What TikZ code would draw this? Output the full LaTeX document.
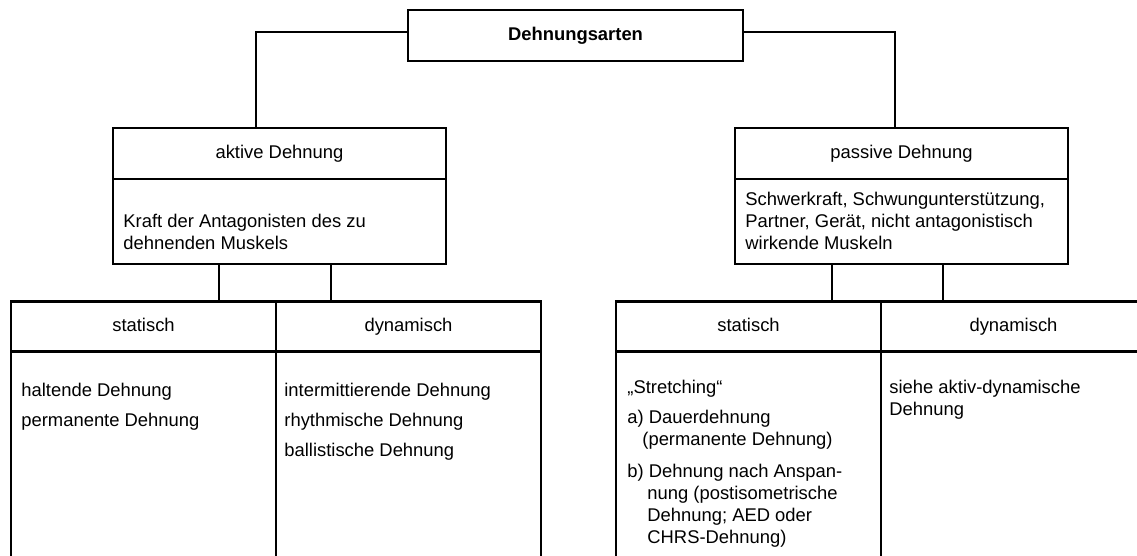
\documentclass[tikz,border=0pt]{standalone}
\usepackage{fontspec}
\setmainfont{Liberation Sans}
\usetikzlibrary{positioning,calc}

\newcommand{\topstrut}{\rule{0pt}{8pt}}

\begin{document}
\begin{tikzpicture}[x=0.5pt, y=-0.5pt,
    box/.style={rectangle, draw=black, line width=1.15pt, inner sep=0pt, outer sep=0pt, anchor=north west, font=\fontsize{9.2}{11}\selectfont},
    headbox/.style={box, minimum height=25.5pt, text height=6.7pt, text depth=1.9pt},
    cellhead/.style={box, minimum width=132.5pt, minimum height=25pt, text height=6.7pt, text depth=1.9pt},
    cellbody/.style={box, minimum width=132.5pt, minimum height=130pt},
    txt/.style={anchor=north west, inner sep=0pt, align=left, font=\fontsize{9.2}{11}\selectfont},
    link/.style={draw=black, line width=0.85pt}
]
    \useasboundingbox (0,0) rectangle (1137,556);
    \clip (0,0) rectangle (1137,556);

    % Top box
    \node[headbox, minimum width=167.5pt] (arten) at (408,10) {\textbf{Dehnungsarten}};

    % aktive / passive Dehnung
    \node[headbox, minimum width=166.5pt] (aktivhead) at (113,128) {aktive Dehnung};
    \node[box, minimum width=166.5pt, minimum height=42.5pt] (aktivbody) at (113,179) {};
    \node[headbox, minimum width=166.5pt] (passivhead) at (735,128) {passive Dehnung};
    \node[box, minimum width=166.5pt, minimum height=42.5pt] (passivbody) at (735,179) {};

    % text starts 16px above its first baseline (topstrut)
    \node[txt] (aktivtext) at (123,211) {\topstrut Kraft der Antagonisten des zu\\dehnenden Muskels};
    \node[txt] (passivtext) at (745,189) {\topstrut Schwerkraft, Schwungunterstützung,\\Partner, Gerät, nicht antagonistisch\\wirkende Muskeln};

    % Left table (aktiv)
    \node[cellhead] (statkopfL) at (11,301.5) {statisch};
    \node[cellhead] (dynkopfL) at (276,301.5) {dynamisch};
    \node[cellbody] (statfeldL) at (11,351.5) {};
    \node[cellbody] (dynfeldL) at (276,351.5) {};

    \node[txt] (stattextL) at (21,380) {\topstrut haltende Dehnung\\[4pt]permanente Dehnung};
    \node[txt] (dyntextL) at (284,380) {\topstrut intermittierende Dehnung\\[4pt]rhythmische Dehnung\\[4pt]ballistische Dehnung};

    % Right table (passiv)
    \node[cellhead] (statkopfR) at (616,301.5) {statisch};
    \node[cellhead] (dynkopfR) at (881,301.5) {dynamisch};
    \node[cellbody] (statfeldR) at (616,351.5) {};
    \node[cellbody] (dynfeldR) at (881,351.5) {};

    \node[txt] (stattextR) at (627,377) {\topstrut „Stretching“\\[4pt]
        a) Dauerdehnung\\\hspace*{7.5pt}(permanente Dehnung)\\[5pt]
        b) Dehnung nach Anspan-\\\hspace*{10pt}nung (postisometrische\\\hspace*{10pt}Dehnung; AED oder\\\hspace*{10pt}CHRS-Dehnung)};
    \node[txt] (dyntextR) at (889,377) {\topstrut siehe aktiv-dynamische\\Dehnung};

    % Connectors
    \draw[link] ([yshift=1.75pt]arten.west) -| ([xshift=-11.75pt]aktivhead.north);
    \draw[link] ([yshift=1.75pt]arten.east) -| ([xshift=-3.25pt]passivhead.north);
    \draw[link] ([xshift=-30.25pt]aktivbody.south) -- ([xshift=-30.25pt]aktivbody.south |- statkopfL.north);
    \draw[link] ([xshift=25.75pt]aktivbody.south) -- ([xshift=25.75pt]aktivbody.south |- dynkopfL.north);
    \draw[link] ([xshift=-34.75pt]passivbody.south) -- ([xshift=-34.75pt]passivbody.south |- statkopfR.north);
    \draw[link] ([xshift=20.75pt]passivbody.south) -- ([xshift=20.75pt]passivbody.south |- statkopfR.north);
\end{tikzpicture}
\end{document}
